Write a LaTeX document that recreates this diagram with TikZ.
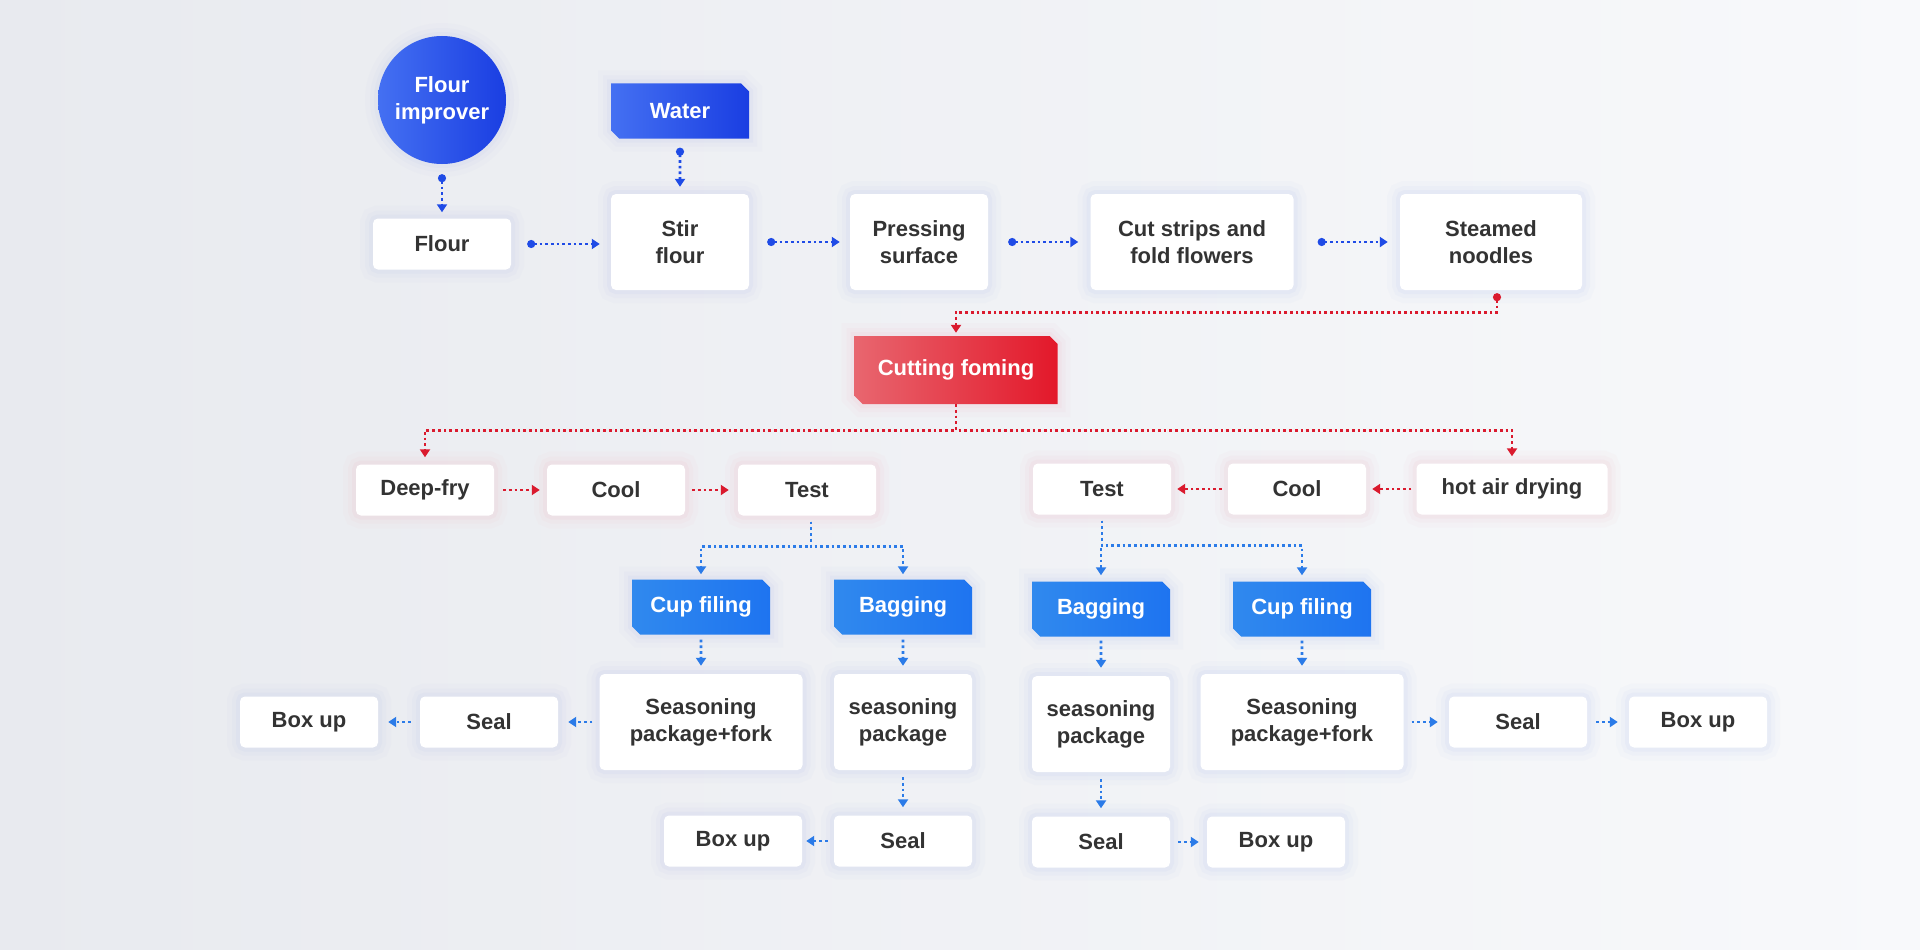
\documentclass[tikz,border=0pt]{standalone}
\usepackage{fontspec}
\setmainfont{Liberation Sans}
\usetikzlibrary{arrows.meta,shapes.misc}
\definecolor{ink}{HTML}{333333}
\definecolor{bgleft}{HTML}{E8EAEF}
\definecolor{bgright}{HTML}{F8F9FB}
\definecolor{deepblue}{HTML}{1F4BE6}
\definecolor{deepblueA}{HTML}{4470F2}
\definecolor{deepblueB}{HTML}{1A3EE2}
\definecolor{skyA}{HTML}{3089EE}
\definecolor{skyB}{HTML}{1E74F0}
\definecolor{sky}{HTML}{2B7BE8}
\definecolor{redA}{HTML}{E8666F}
\definecolor{redB}{HTML}{E3182A}
\definecolor{redline}{HTML}{DA1A2E}
\definecolor{haloblue}{HTML}{B4C0EE}
\definecolor{halored}{HTML}{EFB4BE}
\tikzset{
  halo/.style={preaction={draw=#1,line width=26pt,opacity=.05},
               preaction={draw=#1,line width=16pt,opacity=.07},
               preaction={draw=#1,line width=8pt,opacity=.10}},
}
\begin{document}
\begin{tikzpicture}[x=1pt,y=-1pt,
  every node/.style={font=\fontsize{22}{27}\selectfont\bfseries,text=ink,align=center,inner sep=0pt},
  card/.style={fill=white,rounded corners=5pt,minimum width=138pt,minimum height=51pt},
  box/.style={card,halo=haloblue},
  pbox/.style={card,halo=halored},
  tall/.style={box,minimum height=96pt},
  chip/.style={chamfered rectangle,chamfered rectangle corners={north east,south west},
    chamfered rectangle xsep=4pt,chamfered rectangle ysep=4pt,
    minimum width=138pt,minimum height=55pt,text=white},
  tag/.style={chip,left color=skyA,right color=skyB,halo=haloblue},
  flow/.style={draw=sky,line width=2.7pt,dash pattern=on 2.7pt off 3pt,
    -{Triangle[length=8pt,width=10pt]}},
  dotflow/.style={flow,{Circle[length=8pt]}-{Triangle[length=8pt,width=10pt]}},
]
  \fill[left color=bgleft,right color=bgright] (0,0) rectangle (1920,950);

  % dough line
  \node[circle,minimum size=128pt,text=white,left color=deepblueA,right color=deepblueB,
    halo=haloblue] (imp) at (442,100) {Flour\\improver};
  \node[chip,left color=deepblueA,right color=deepblueB,halo=haloblue] (water) at (680,111) {Water};
  \node[box] (flour) at (442,244) {Flour};
  \node[tall] (stir) at (680,242) {Stir\\flour};
  \node[tall] (press) at (919,242) {Pressing\\surface};
  \node[tall,minimum width=203pt] (strips) at (1192,242) {Cut strips and\\fold flowers};
  \node[tall,minimum width=182pt] (steam) at (1491,242) {Steamed\\noodles};
  \node[chip,minimum width=203pt,minimum height=68pt,left color=redA,right color=redB,
    halo=halored] (cutf) at (956,370) {Cutting foming};

  \draw[dotflow,draw=deepblue,shorten <=10pt,shorten >=6pt] (imp) -- (flour);
  \draw[dotflow,draw=deepblue,shorten <=9pt,shorten >=7pt] (water) -- (stir);
  \draw[dotflow,draw=deepblue,shorten <=16pt,shorten >=11pt] (flour.east) -- (stir.west |- flour.east);
  \draw[dotflow,draw=deepblue,shorten <=18pt,shorten >=10pt] (stir) -- (press);
  \draw[dotflow,draw=deepblue,shorten <=20pt,shorten >=12pt] (press) -- (strips);
  \draw[dotflow,draw=deepblue,shorten <=24pt,shorten >=12pt] (strips) -- (steam);
  \draw[dotflow,draw=redline,shorten <=3pt,shorten >=3pt] ([xshift=6pt]steam.south) -- ++(0,22) -| (cutf.north);

  % two drying lines
  \node[pbox] (fry) at (425,490) {Deep-fry};
  \node[pbox] (coolL) at (616,490) {Cool};
  \node[pbox] (testL) at (807,490) {Test};
  \node[pbox] (testR) at (1102,489) {Test};
  \node[pbox] (coolR) at (1297,489) {Cool};
  \node[pbox,minimum width=191pt] (hot) at (1512,489) {hot air drying};

  \draw[flow,draw=redline,shorten >=7pt] (cutf.south) -- ++(0,26) -| (fry.north);
  \draw[flow,draw=redline,shorten >=7pt] (cutf.south) -- ++(0,26) -| (hot.north);
  \draw[flow,draw=redline,shorten <=9pt,shorten >=7pt] (fry) -- (coolL);
  \draw[flow,draw=redline,shorten <=7pt,shorten >=9pt] (coolL) -- (testL);
  \draw[flow,draw=redline,shorten <=5pt,shorten >=6pt] (hot) -- (coolR);
  \draw[flow,draw=redline,shorten <=6pt,shorten >=6pt] (coolR) -- (testR);

  % packing
  \node[tag] (cupL) at (701,607) {Cup filing};
  \node[tag] (bagL) at (903,607) {Bagging};
  \node[tag] (bagR) at (1101,609) {Bagging};
  \node[tag] (cupR) at (1302,609) {Cup filing};

  \draw[flow,shorten <=6pt,shorten >=5pt] ([xshift=4pt]testL.south) -- ++(0,31) -| (cupL.north);
  \draw[flow,shorten <=6pt,shorten >=5pt] ([xshift=4pt]testL.south) -- ++(0,31) -| (bagL.north);
  \draw[flow,shorten <=6pt,shorten >=6pt] (testR.south) -- ++(0,31) -| (bagR.north);
  \draw[flow,shorten <=6pt,shorten >=6pt] (testR.south) -- ++(0,31) -| (cupR.north);

  \node[tall,minimum width=203pt] (pkfL) at (701,722) {Seasoning\\package+fork};
  \node[tall] (pkL) at (903,722) {seasoning\\package};
  \node[tall] (pkR) at (1101,724) {seasoning\\package};
  \node[tall,minimum width=203pt] (pkfR) at (1302,722) {Seasoning\\package+fork};

  \draw[flow,shorten <=5pt,shorten >=8pt] (cupL) -- (pkfL);
  \draw[flow,shorten <=5pt,shorten >=8pt] (bagL) -- (pkL);
  \draw[flow,shorten <=4pt,shorten >=8pt] (bagR) -- (pkR);
  \draw[flow,shorten <=4pt,shorten >=8pt] (cupR) -- (pkfR);

  \node[box] (sealL) at (489,722) {Seal};
  \node[box] (boxL) at (309,722) {Box up};
  \node[box] (sealLB) at (903,841) {Seal};
  \node[box] (boxLB) at (733,841) {Box up};
  \node[box] (sealRB) at (1101,842) {Seal};
  \node[box] (boxRB) at (1276,842) {Box up};
  \node[box] (sealR) at (1518,722) {Seal};
  \node[box] (boxR) at (1698,722) {Box up};

  \draw[flow,shorten <=7pt,shorten >=10pt] (pkfL) -- (sealL);
  \draw[flow,shorten <=9pt,shorten >=10pt] (sealL) -- (boxL);
  \draw[flow,shorten <=7pt,shorten >=8pt] (pkL) -- (sealLB);
  \draw[flow,shorten <=6pt,shorten >=4pt] (sealLB) -- (boxLB);
  \draw[flow,shorten <=7pt,shorten >=8pt] (pkR) -- (sealRB);
  \draw[flow,shorten <=8pt,shorten >=8pt] (sealRB) -- (boxRB);
  \draw[flow,shorten <=8pt,shorten >=11pt] (pkfR) -- (sealR);
  \draw[flow,shorten <=9pt,shorten >=11pt] (sealR) -- (boxR);
\end{tikzpicture}
\end{document}
